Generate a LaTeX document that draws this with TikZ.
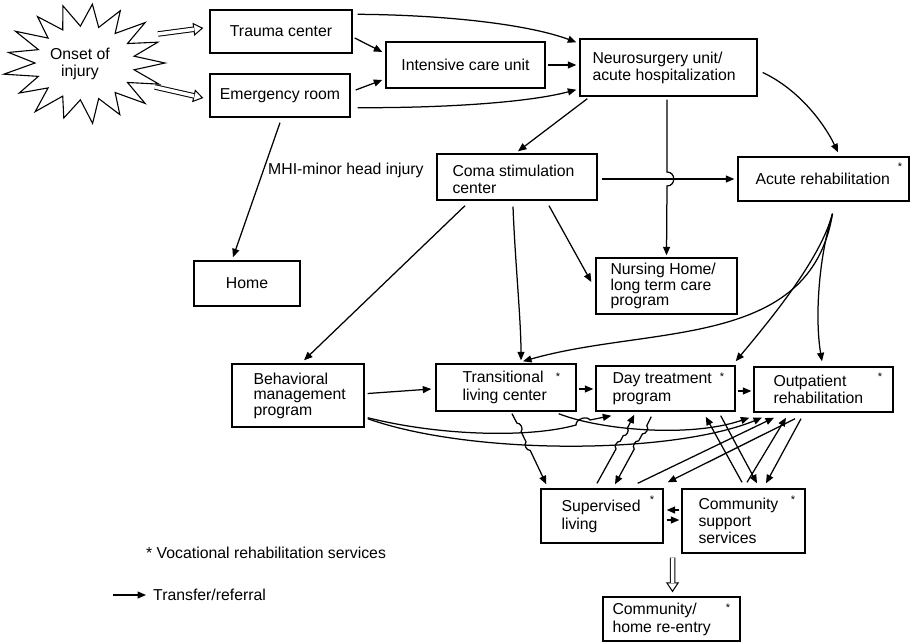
\documentclass[tikz,border=0pt]{standalone}
\usepackage{fontspec}
\setmainfont{Liberation Sans}
\usetikzlibrary{arrows.meta,calc}
\begin{document}
\begin{tikzpicture}[x=1pt,y=-1pt,
  every node/.style={font=\fontsize{15.8}{17}\selectfont, inner sep=0pt},
  box/.style={draw, line width=1.4pt, inner sep=0pt, align=center},
  txt/.style={align=left, anchor=west},
  ast/.style={font=\fontsize{11}{11}\selectfont},
  arr/.style={line width=1.25pt, -{Triangle[length=8.5pt,width=7pt]}},
  hollow/.style={double, double distance=3.5pt, line width=1pt},
  htip/.style={line width=1pt, -{Triangle[open,length=10pt,width=13pt]}},
]
\useasboundingbox (0,0) rectangle (915,642);

% ---------- onset star ----------
\draw[line width=1.1pt] plot[samples at={0,1,...,33}, variable=\i]
  ({85+(50+30*(1-mod(\i,2))*(1+0.09*sin(\i*97)))*cos(\i*360/34)},
   {63+(37+22*(1-mod(\i,2))*(1+0.09*sin(\i*97)))*sin(\i*360/34)}) -- cycle;
\node[align=center] (onset) at (80,63.5) {Onset of\\injury};

% ---------- boxes ----------
\node[box, minimum width=142, minimum height=43] (tc) at (281,31.5) {Trauma center};
\node[box, minimum width=140, minimum height=43] (er) at (280,95.5) {Emergency room};
\node[box, minimum width=159, minimum height=46] (icu) at (465.5,65) {Intensive care unit};

\node[box, minimum width=177, minimum height=57] (ns) at (668.5,67.5) {};
\node[txt] (nst) at ($(ns.west)+(13,0)$) {Neurosurgery unit/\\acute hospitalization};

\node[box, minimum width=160, minimum height=46] (coma) at (517,177) {};
\node[txt] (comat) at ($(coma.west)+(16,2)$) {Coma stimulation\\center};

\node[box, minimum width=171, minimum height=44] (acute) at (823.5,179) {};
\node[txt] (acutet) at ($(acute.west)+(18,0)$) {Acute rehabilitation};
\node[ast] (acutea) at (900,167) {*};

\node[box, minimum width=106, minimum height=45] (home) at (247,283.5) {Home};

\node[box, minimum width=141, minimum height=56] (nh) at (666.5,286) {};
\node[txt, font=\fontsize{15.8}{15.5}\selectfont] (nht) at ($(nh.west)+(15,0)$) {Nursing Home/\\long term care\\program};

\node[box, minimum width=132, minimum height=63] (bm) at (298,395.5) {};
\node[txt, font=\fontsize{15.8}{15.5}\selectfont] (bmt) at ($(bm.west)+(22,0)$) {Behavioral\\management\\program};

\node[box, minimum width=140, minimum height=47] (tl) at (506,387.5) {};
\node[txt, font=\fontsize{15.8}{18.5}\selectfont] (tlt) at ($(tl.west)+(27,0)$) {Transitional\\living center};
\node[ast] (tla) at (558,377) {*};

\node[box, minimum width=139, minimum height=45] (dt) at (665.5,388.5) {};
\node[txt, font=\fontsize{15.8}{17.5}\selectfont] (dtt) at ($(dt.west)+(17,0)$) {Day treatment\\program};
\node[ast] (dta) at (722,377) {*};

\node[box, minimum width=139, minimum height=45] (op) at (823.5,389.5) {};
\node[txt, font=\fontsize{15.8}{17.5}\selectfont] (opt) at ($(op.west)+(20,0)$) {Outpatient\\rehabilitation};
\node[ast] (opa) at (880,377) {*};

\node[box, minimum width=122, minimum height=54] (sl) at (602,516) {};
\node[txt, font=\fontsize{15.8}{18}\selectfont] (slt) at ($(sl.west)+(21,0)$) {Supervised\\living};
\node[ast] (sla) at (652,500) {*};

\node[box, minimum width=123, minimum height=64] (cs) at (743.5,521) {};
\node[txt] (cst) at ($(cs.west)+(17,0)$) {Community\\support\\services};
\node[ast] (csa) at (793,500) {*};

\node[box, minimum width=137, minimum height=44] (ch) at (671.5,619) {};
\node[txt, font=\fontsize{15.8}{18}\selectfont] (cht) at ($(ch.west)+(10,0)$) {Community/\\home re-entry};
\node[ast] (cha) at (728,608) {*};

\node[anchor=west] (mhi) at (268,170) {MHI-minor head injury};

% ---------- hollow arrows ----------
\coordinate (s1) at (158,34);  \coordinate (s1e) at ($(tc.west)+(-6,-3.5)$);
\coordinate (s2) at (155,87);  \coordinate (s2e) at ($(er.west)+(-6,2.5)$);
\draw[htip] ($(s1)!0.6!(s1e)$) -- (s1e);
\draw[hollow, shorten >=9.5pt] (s1) -- (s1e);
\draw[htip] ($(s2)!0.6!(s2e)$) -- (s2e);
\draw[hollow, shorten >=9.5pt] (s2) -- (s2e);

\coordinate (d1) at ($($(sl.south east)!0.5!(cs.south west)$)+(0,9)$);
\coordinate (d1e) at ($(ch.north)+(1,-4)$);
\draw[htip] ($(d1)!0.6!(d1e)$) -- (d1e);
\draw[hollow, shorten >=9.5pt] (d1) -- (d1e);

% ---------- top arrows ----------
\draw[arr] ($(tc.east)+(2,6.5)$) -- ($(icu.west)+(-3,-13)$);
\draw[arr] ($(er.east)+(5,-5.5)$) -- ($(icu.west)+(-3,15)$);
\draw[arr] ($(icu.east)+(2,0)$) -- ($(ns.west)+(-3,-2.5)$);
\draw[arr] ($(tc.north east)+(5,5)$) .. controls (450,15) and (530,25) .. ($(ns.north west)+(-3,4)$);
\draw[arr] ($(er.south east)+(7,-10)$) .. controls (450,108) and (530,102) .. ($(ns.south west)+(-3,-7)$);
\draw[arr] ($(er.south)+(0,5)$) -- ($(home.north)+(-14,-3)$);

\draw[arr] ($(ns.south west)+(8,2)$) -- ($(coma.north)+(1,-2)$);
\draw[arr] ($(ns.south)+(-1.5,3)$) -- (667,172) .. controls (676,172) and (676,186) .. (667,186) -- ($(nh.north)+(0,-2)$);
\draw[arr] ($(ns.east)+(5,5)$) .. controls (800,90) and (825,125) .. ($(acute.north)+(14.5,-4)$);

\draw[arr] ($(coma.east)+(4,2)$) -- ($(acute.west)+(-3,0)$);
\draw[arr] ($(coma.south)+(32,5)$) -- ($(nh.west)+(-4,-4)$);
\draw[arr] ($(coma.south)+(-52,5)$) -- ($(bm.north)+(6,-3)$);
\draw[arr] ($(coma.south)+(-4,6)$) .. controls (515,260) and (521,320) .. ($(tl.north)+(15,-3)$);

\coordinate (ar) at ($(acute.south)+(9,12)$);
\draw[arr] (ar) .. controls (810,350) and (650,325) .. ($(tl.north)+(17,-2)$);
\draw[arr] (ar) .. controls (820,260) and (770,320) .. ($(dt.north east)+(0,-4)$);
\draw[arr] (ar) .. controls (818,260) and (815,320) .. ($(op.north)+(-1.5,-5)$);

% ---------- middle row ----------
\draw[arr] ($(bm.east)+(3,-2)$) -- ($(tl.west)+(-4,1.5)$);
\draw[arr] ($(tl.east)+(2,1.5)$) -- ($(dt.west)+(-2,0.5)$);
\draw[arr] ($(dt.east)+(2,2.5)$) -- ($(op.west)+(-2,1.5)$);

% ---------- bottom tangle ----------
\draw[arr] ($(bm.south east)+(3,-10)$) .. controls (440,436) and (530,438) .. (576,425)
   to[bend left=75] (590,420) -- ($(dt.south west)+(16,4)$);
\draw[arr] ($(bm.south east)+(3,-9)$) .. controls (470,455) and (670,455) .. ($(op.south)+(-61.5,5)$);
\draw[arr] ($(tl.south east)+(-18,2)$) .. controls (600,430) and (690,438) .. ($(op.south west)+(-4,5)$);

\draw[arr] ($(tl.south)+(6,2)$) -- (516.9,423.1) to[bend left=70] (521.1,431.7)
   -- (526,441.8) to[bend right=70] (530.2,450.4) -- ($(sl.north west)+(6,-4)$);
\draw[arr] ($(sl.north)+(-5,-5)$) -- (616,449) to[bend left=70] (620.2,441.3)
   -- (623.2,435.7) to[bend right=70] (627.4,428) -- ($(dt.south west)+(39,3)$);
\draw[arr] ($(dt.south west)+(56,5)$) -- (646.8,425.7) to[bend left=70] (642.4,433.9)
   -- (638.7,440.8) to[bend right=70] (634.2,449.1) -- ($(sl.north)+(13,-4)$);

\draw[arr] ($(sl.north east)+(-26,-5)$) -- ($(op.south)+(-49.5,5)$);
\draw[arr] ($(op.south)+(-28.5,6)$) -- ($(sl.north east)+(4,-6)$);
\draw[arr] ($(cs.north)+(-1.5,-6)$) -- ($(dt.south east)+(-30,5)$);
\draw[arr] ($(dt.south east)+(-15,4)$) -- ($(cs.north)+(13.5,-5)$);
\draw[arr] ($(cs.north)+(3.5,-6)$) -- ($(op.south)+(-37.5,5)$);
\draw[arr] ($(op.south)+(-22.5,6)$) -- ($(cs.north)+(22.5,-5)$);

\draw[arr] ($(cs.west)+(-2,-11)$) -- ($(sl.east)+(3,-6)$);
\draw[arr] ($(sl.east)+(3,4)$) -- ($(cs.west)+(-2,-1)$);

% ---------- legend ----------
\node[anchor=west] (lgv) at (146,553) {* Vocational rehabilitation services};
\coordinate (lg1) at (113,595);
\node[anchor=west] (lgt) at (153,595) {Transfer/referral};
\draw[arr] (lg1) -- ($(lgt.west)+(-7,0)$);
\end{tikzpicture}
\end{document}
